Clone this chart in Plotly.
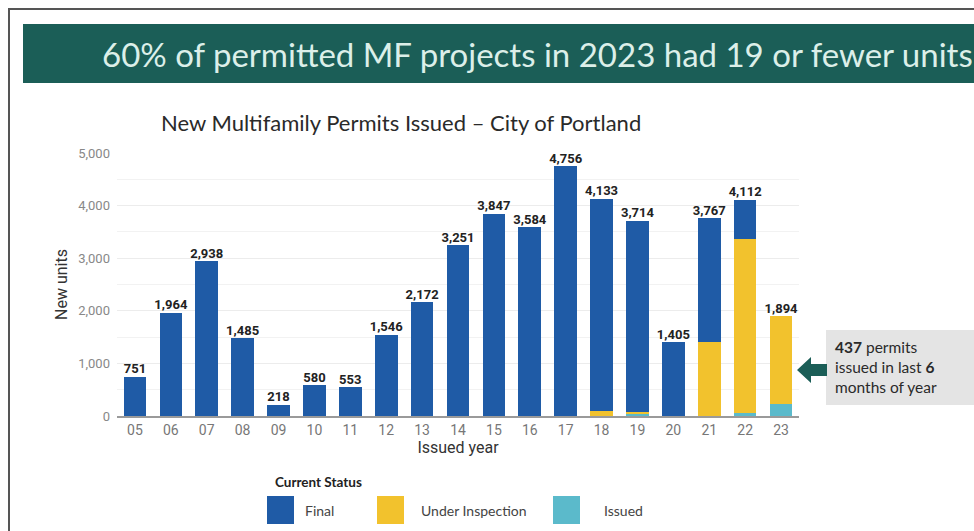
import plotly.graph_objects as go

years = ["05","06","07","08","09","10","11","12","13","14","15","16","17","18","19","20","21","22","23"]
final = [751,1964,2938,1485,218,580,553,1546,2172,3251,3847,3584,4756,4043,3634,1405,2367,752,0]
under_inspection = [0,0,0,0,0,0,0,0,0,0,0,0,0,90,40,0,1400,3300,1669]
issued = [0,0,0,0,0,0,0,0,0,0,0,0,0,0,40,0,0,60,225]
totals = [f + u + i for f, u, i in zip(final, under_inspection, issued)]
y_ticks = [0, 1000, 2000, 3000, 4000, 5000]

W, H = 974, 531
L, R, T, B = 117, 175, 153, 115
PW, PH = W - L - R, H - T - B

def px(x):
    return (x - L) / PW

def py(y):
    return (H - B - y) / PH

C_FINAL = "#1f5ba6"
C_UNDER = "#f2c22d"
C_ISSUED = "#5bbacb"
C_TEAL = "#1b5e57"

fig = go.Figure()
fig.add_trace(go.Bar(x=years, y=issued, name="Issued", marker_color=C_ISSUED, marker_line_width=0))
fig.add_trace(go.Bar(x=years, y=under_inspection, name="Under Inspection", marker_color=C_UNDER, marker_line_width=0))
fig.add_trace(go.Bar(x=years, y=final, name="Final", marker_color=C_FINAL, marker_line_width=0))
fig.add_trace(go.Scatter(
    x=years, y=totals, mode="text",
    text=[f"{v:,}" for v in totals], textposition="top center",
    textfont=dict(family="Roboto", size=13, color="#222", weight="bold"),
    cliponaxis=False, hoverinfo="skip"))

shapes = []
shapes.append(dict(type="rect", xref="paper", yref="paper", x0=px(9), x1=px(990), y0=py(9), y1=py(560),
                   line=dict(color="#555", width=2), fillcolor="rgba(0,0,0,0)", layer="below"))
shapes.append(dict(type="rect", xref="paper", yref="paper", x0=px(23), x1=px(990), y0=py(24), y1=py(83),
                   line=dict(width=0), fillcolor=C_TEAL, layer="below"))
shapes.append(dict(type="rect", xref="paper", yref="paper", x0=px(826), x1=px(990), y0=py(330), y1=py(405),
                   line=dict(width=0), fillcolor="#e4e4e4", layer="below"))
ax = [797, 811, 811, 827, 827, 811, 811]
ay = [370, 357, 364, 364, 376, 376, 383]
path = "M " + " L ".join(f"{px(a)},{py(b)}" for a, b in zip(ax, ay)) + " Z"
shapes.append(dict(type="path", xref="paper", yref="paper", path=path, fillcolor=C_TEAL, line=dict(width=0)))
for x0, col in [(267, C_FINAL), (377, C_UNDER), (553, C_ISSUED)]:
    shapes.append(dict(type="rect", xref="paper", yref="paper", x0=px(x0), x1=px(x0 + 27), y0=py(496), y1=py(524),
                       line=dict(width=0), fillcolor=col))

annotations = []
annotations.append(dict(xref="paper", yref="paper", x=px(100), y=py(54), xanchor="left", yanchor="middle",
                        text="60% of permitted MF projects in 2023 had 19 or fewer units", showarrow=False,
                        font=dict(family="Lato", size=33, color="#dcefe9")))
annotations.append(dict(xref="paper", yref="paper", x=px(159), y=py(123), xanchor="left", yanchor="middle",
                        text="New Multifamily Permits Issued \u2013 City of Portland", showarrow=False,
                        font=dict(family="Lato", size=22, color="#2a2a2a")))
annotations.append(dict(xref="paper", yref="paper", x=px(833), y=py(367), xanchor="left", yanchor="middle", align="left",
                        text="<b>437</b> permits<br>issued in last <b>6</b><br>months of year", showarrow=False,
                        font=dict(family="Lato", size=15.5, color="#2a2a2a")))
annotations.append(dict(xref="paper", yref="paper", x=px(273), y=py(482), xanchor="left", yanchor="middle",
                        text="<b>Current Status</b>", showarrow=False,
                        font=dict(family="Lato", size=13.5, color="#222")))
for x0, label in [(303, "Final"), (419, "Under Inspection"), (602, "Issued")]:
    annotations.append(dict(xref="paper", yref="paper", x=px(x0), y=py(510), xanchor="left", yanchor="middle",
                            text=label, showarrow=False, font=dict(family="Lato", size=14, color="#444")))

fig.update_layout(
    width=W, height=H,
    margin=dict(l=L, r=R, t=T, b=B, autoexpand=False),
    paper_bgcolor="white", plot_bgcolor="white",
    barmode="stack", bargap=0.37, showlegend=False,
    shapes=shapes, annotations=annotations,
    font=dict(family="Roboto"),
    xaxis=dict(type="category", range=[-0.5, len(years) - 0.5], showgrid=False, showline=True,
               linecolor="#9a9a9a", linewidth=1.5,
               ticks="", tickfont=dict(family="Roboto", size=14, color="#777"),
               title=dict(text="Issued year", font=dict(family="Roboto", size=16, color="#333"), standoff=4)),
    yaxis=dict(range=[0, 5000], tickvals=y_ticks, ticktext=[f"{v:,}" for v in y_ticks],
               showgrid=True, gridcolor="#ececec", gridwidth=1, zeroline=False,
               minor=dict(dtick=500, showgrid=True, gridcolor="#f2f2f2"),
               tickfont=dict(family="Roboto", size=13, color="#888"), ticks="", ticklabelstandoff=6,
               title=dict(text="New units", font=dict(family="Roboto", size=16, color="#333"), standoff=6)),
)

fig.write_html("out.html", config={"displayModeBar": False},
               post_script="document.body.style.margin='0';document.body.style.overflow='hidden';")
